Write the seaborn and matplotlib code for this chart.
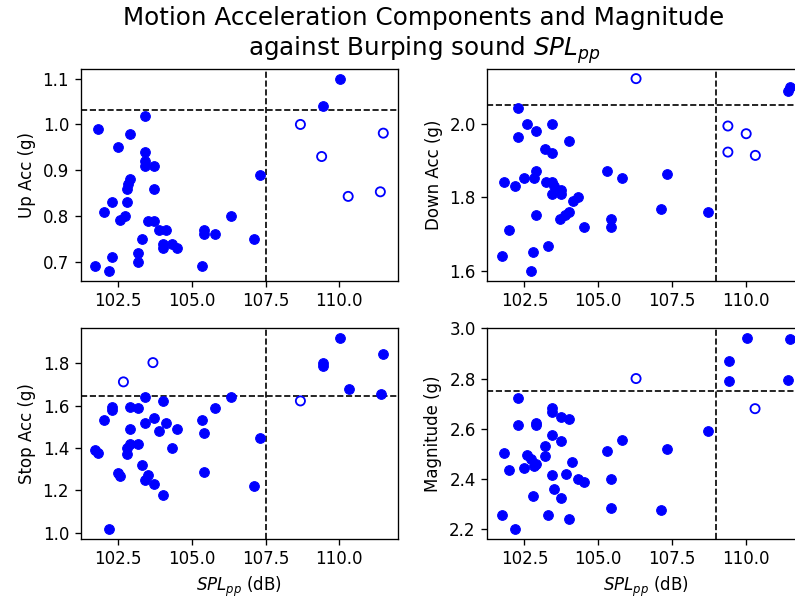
import matplotlib
matplotlib.use("Agg")
import matplotlib.pyplot as plt
import seaborn as sns

# ---------------- data ----------------
up_x_filled = [101.81, 101.72, 102.18, 102.01, 102.28, 102.28, 102.50, 102.58, 102.72, 102.89,
               102.81, 102.81, 102.89, 102.85, 103.18, 103.18, 103.32, 103.42, 103.42, 103.42,
               103.42, 103.73, 103.73, 103.50, 103.73, 103.88, 104.11, 104.02, 104.02, 104.33,
               104.50, 105.33, 105.41, 105.41, 105.80, 106.33, 107.10, 107.32, 109.43, 110.03]
up_y_filled = [0.99, 0.69, 0.68, 0.81, 0.83, 0.71, 0.95, 0.792, 0.80, 0.98,
               0.83, 0.86, 0.88, 0.87, 0.72, 0.70, 0.75, 1.018, 0.94, 0.92,
               0.91, 0.91, 0.86, 0.79, 0.79, 0.77, 0.77, 0.74, 0.73, 0.74,
               0.73, 0.69, 0.77, 0.76, 0.76, 0.80, 0.75, 0.89, 1.04, 1.10]
up_x_hollow = [108.68, 109.40, 110.30, 111.39, 111.49]
up_y_hollow = [1.00, 0.93, 0.843, 0.853, 0.981]

stop_x_filled = [101.72, 101.81, 102.01, 102.18, 102.28, 102.28, 102.50, 102.58, 102.81, 102.81,
                 102.89, 102.89, 102.89, 103.18, 103.18, 103.32, 103.42, 103.42, 103.42, 103.50,
                 103.73, 103.73, 103.88, 104.02, 104.11, 104.02, 104.33, 104.50, 105.33, 105.41,
                 105.41, 105.80, 106.33, 107.10, 107.32, 109.43, 109.43, 110.03, 110.34, 111.41,
                 111.49]
stop_y_filled = [1.388, 1.377, 1.53, 1.017, 1.595, 1.577, 1.283, 1.267, 1.37, 1.40,
                 1.42, 1.49, 1.595, 1.59, 1.42, 1.317, 1.64, 1.52, 1.25, 1.27,
                 1.54, 1.228, 1.478, 1.62, 1.52, 1.178, 1.40, 1.49, 1.53, 1.47,
                 1.286, 1.59, 1.64, 1.222, 1.447, 1.80, 1.789, 1.92, 1.68, 1.653,
                 1.842]
stop_x_hollow = [102.68, 103.68, 108.68]
stop_y_hollow = [1.712, 1.803, 1.622]

down_x_filled = [101.73, 101.80, 101.99, 102.19, 102.28, 102.28, 102.50, 102.59, 102.73, 102.80,
                 102.82, 102.90, 102.90, 102.90, 103.18, 103.23, 103.30, 103.42, 103.42, 103.42,
                 103.42, 103.50, 103.73, 103.73, 103.70, 103.88, 104.01, 104.02, 104.16, 104.30,
                 104.51, 105.28, 105.42, 105.42, 105.82, 107.14, 107.33, 108.73, 111.41, 111.49]
down_y_filled = [1.641, 1.842, 1.71, 1.831, 2.043, 1.963, 1.852, 2.0, 1.599, 1.65,
                 1.852, 1.872, 1.98, 1.751, 1.932, 1.842, 1.668, 2.0, 1.92, 1.842,
                 1.81, 1.831, 1.82, 1.81, 1.74, 1.751, 1.952, 1.761, 1.79, 1.80,
                 1.72, 1.872, 1.742, 1.72, 1.852, 1.769, 1.862, 1.761, 2.09, 2.10]
down_x_hollow = [106.28, 109.39, 109.39, 110.01, 110.32]
down_y_hollow = [2.123, 1.994, 1.923, 1.973, 1.914]

mag_x_filled = [101.73, 101.80, 101.99, 102.19, 102.28, 102.28, 102.50, 102.59, 102.73, 102.80,
                102.82, 102.90, 102.90, 102.90, 103.18, 103.18, 103.30, 103.42, 103.42, 103.42,
                103.42, 103.50, 103.73, 103.73, 103.73, 103.90, 104.02, 104.02, 104.10, 104.30,
                104.51, 105.28, 105.42, 105.42, 105.82, 107.14, 107.33, 108.73, 109.42, 109.42,
                110.05, 111.42, 111.49]
mag_y_filled = [2.257, 2.504, 2.434, 2.201, 2.721, 2.614, 2.445, 2.497, 2.478, 2.333,
                2.451, 2.458, 2.622, 2.614, 2.533, 2.493, 2.257, 2.684, 2.668, 2.576,
                2.414, 2.362, 2.646, 2.55, 2.326, 2.418, 2.64, 2.241, 2.467, 2.399,
                2.386, 2.513, 2.401, 2.283, 2.557, 2.278, 2.52, 2.593, 2.871, 2.789,
                2.962, 2.796, 2.957]
mag_x_hollow = [106.28, 110.31]
mag_y_hollow = [2.80, 2.68]

# thresholds (dashed lines)
spl_threshold_left = 107.5
spl_threshold_right = 109.0
up_threshold = 1.032
down_threshold = 2.052
stop_threshold = 1.645
mag_threshold = 2.751

# ticks / labels
x_ticks = [102.5, 105.0, 107.5, 110.0]
up_ticks = [0.7, 0.8, 0.9, 1.0, 1.1]
down_ticks = [1.6, 1.8, 2.0]
stop_ticks = [1.0, 1.2, 1.4, 1.6, 1.8]
mag_ticks = [2.2, 2.4, 2.6, 2.8, 3.0]
up_label = "Up Acc (g)"
down_label = "Down Acc (g)"
stop_label = "Stop Acc (g)"
mag_label = "Magnitude (g)"
x_label = "$SPL_{pp}$ (dB)"
title = "Motion Acceleration Components and Magnitude\nagainst Burping sound $SPL_{pp}$"

# ---------------- figure ----------------
W, H = 795, 601
DPI = 120
fig = plt.figure(figsize=(W / DPI, H / DPI), dpi=DPI)
plt.rcParams['font.family'] = ['DejaVu Sans']


def rect(l, t, r, b):
    return [l / W, 1 - b / H, (r - l) / W, (b - t) / H]


ax_up = fig.add_axes(rect(80.7, 69, 397.7, 280.7))
ax_down = fig.add_axes(rect(487.3, 69, 804.3, 280.7))
ax_stop = fig.add_axes(rect(80.7, 328.3, 397.7, 538.5))
ax_mag = fig.add_axes(rect(487.3, 328.3, 804.3, 538.5))

panels = [
    (ax_up, up_x_filled, up_y_filled, up_x_hollow, up_y_hollow, spl_threshold_left, up_threshold, up_ticks, up_label, False),
    (ax_down, down_x_filled, down_y_filled, down_x_hollow, down_y_hollow, spl_threshold_right, down_threshold, down_ticks, down_label, False),
    (ax_stop, stop_x_filled, stop_y_filled, stop_x_hollow, stop_y_hollow, spl_threshold_left, stop_threshold, stop_ticks, stop_label, True),
    (ax_mag, mag_x_filled, mag_y_filled, mag_x_hollow, mag_y_hollow, spl_threshold_right, mag_threshold, mag_ticks, mag_label, True),
]

for ax, xf, yf, xh, yh, vx, hy, yt, yl, show_xlabel in panels:
    sns.scatterplot(x=xf, y=yf, ax=ax, s=34, color="blue", edgecolor="blue", linewidth=0.6, zorder=3)
    sns.scatterplot(x=xh, y=yh, ax=ax, s=30, facecolor="none", edgecolor="blue", linewidth=1.1, zorder=3)
    ax.axvline(vx, color="black", linestyle="--", linewidth=1.0)
    ax.axhline(hy, color="black", linestyle="--", linewidth=1.0)
    ax.set_xticks(x_ticks)
    ax.set_yticks(yt)
    ax.set_ylabel(yl, fontsize=10)
    if show_xlabel:
        ax.set_xlabel(x_label, fontsize=10)
    else:
        ax.set_xlabel("")
    ax.tick_params(labelsize=10)

fig.suptitle(title, x=424 / W, y=1 - 6 / H, va="top", fontsize=14.8)

fig.savefig("out.png", dpi=DPI)
